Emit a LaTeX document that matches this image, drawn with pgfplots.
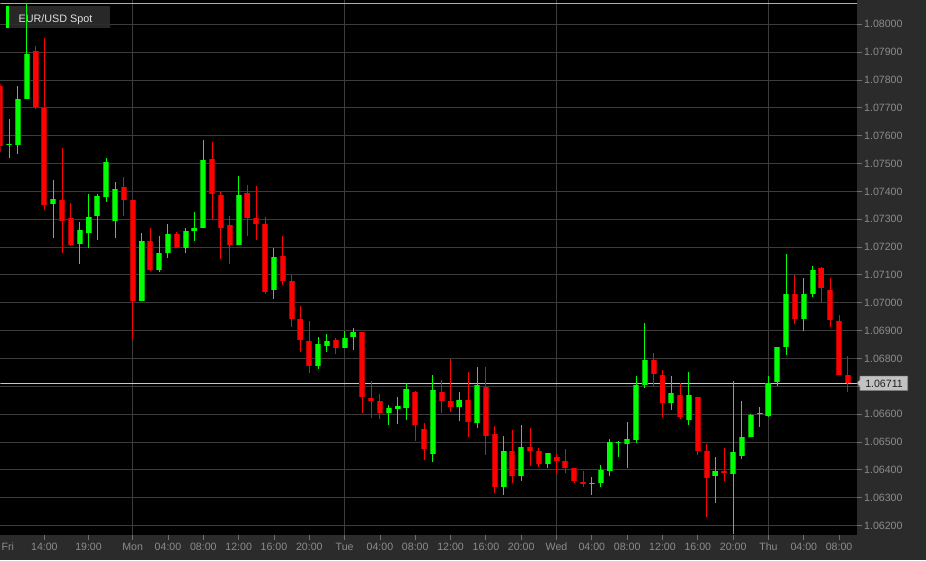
\documentclass[border=0pt]{standalone}
\usepackage{fontspec}
\setmainfont{Liberation Sans}
\usepackage{pgfplots}
\pgfplotsset{compat=1.18}
\usepackage{pgfplotstable}

\definecolor{panel}{HTML}{2B2B2B}
\definecolor{gridc}{HTML}{3C3C3C}
\definecolor{tickc}{HTML}{707070}
\definecolor{ticklbl}{HTML}{8C8C8C}
\definecolor{upc}{HTML}{00FF00}
\definecolor{upedge}{HTML}{00B000}
\definecolor{dnc}{HTML}{FF0000}
\definecolor{dnedge}{HTML}{B40000}

% hourly candles, x = hours from Mon 00:00
\pgfplotstableread{
x o h l c
-14 1.07567 1.07659 1.07520 1.07571
-13 1.07567 1.07777 1.07533 1.07733
-12 1.07733 1.08077 1.07733 1.07895
-9 1.07355 1.07440 1.07233 1.07373
-6 1.07211 1.07289 1.07139 1.07260
-5 1.07252 1.07390 1.07197 1.07307
-4 1.07312 1.07390 1.07225 1.07382
-3 1.07378 1.07519 1.07362 1.07507
-2 1.07294 1.07433 1.07233 1.07410
1 1.07005 1.07249 1.07005 1.07221
3 1.07119 1.07239 1.07111 1.07177
4 1.07179 1.07282 1.07162 1.07248
6 1.07198 1.07267 1.07177 1.07258
7 1.07258 1.07325 1.07222 1.07270
8 1.07269 1.07583 1.07269 1.07511
12 1.07206 1.07454 1.07206 1.07386
16 1.07045 1.07196 1.07013 1.07163
21 1.06772 1.06876 1.06762 1.06851
22 1.06845 1.06887 1.06823 1.06864
24 1.06837 1.06898 1.06837 1.06875
25 1.06876 1.06908 1.06830 1.06895
29 1.06603 1.06632 1.06561 1.06621
30 1.06620 1.06661 1.06565 1.06628
31 1.06621 1.06712 1.06579 1.06689
34 1.06457 1.06740 1.06428 1.06687
37 1.06626 1.06678 1.06574 1.06650
39 1.06567 1.06768 1.06550 1.06706
42 1.06338 1.06521 1.06310 1.06467
44 1.06379 1.06561 1.06360 1.06482
47 1.06419 1.06461 1.06407 1.06461
52 1.06350 1.06374 1.06310 1.06354
53 1.06353 1.06416 1.06337 1.06398
54 1.06395 1.06510 1.06378 1.06498
55 1.06497 1.06503 1.06445 1.06501
56 1.06492 1.06571 1.06406 1.06509
57 1.06507 1.06736 1.06497 1.06705
58 1.06703 1.06926 1.06694 1.06793
61 1.06638 1.06736 1.06616 1.06674
63 1.06578 1.06751 1.06559 1.06669
66 1.06378 1.06445 1.06279 1.06396
68 1.06384 1.06718 1.06169 1.06464
69 1.06449 1.06646 1.06437 1.06518
70 1.06517 1.06602 1.06517 1.06597
71 1.06600 1.06625 1.06554 1.06604
72 1.06593 1.06738 1.06589 1.06711
73 1.06716 1.06841 1.06701 1.06841
74 1.06840 1.07174 1.06811 1.07032
76 1.06942 1.07090 1.06899 1.07030
77 1.07032 1.07132 1.07021 1.07119
}\upbars

\pgfplotstableread{
x o h l c
-15 1.07777 1.07787 1.07541 1.07563
-11 1.07903 1.07921 1.07696 1.07702
-10 1.07701 1.07950 1.07332 1.07351
-8 1.07369 1.07555 1.07179 1.07292
-7 1.07304 1.07357 1.07203 1.07206
-1 1.07417 1.07451 1.07312 1.07369
0 1.07368 1.07368 1.06869 1.07005
2 1.07221 1.07267 1.07114 1.07119
5 1.07247 1.07254 1.07195 1.07198
9 1.07518 1.07576 1.07297 1.07390
10 1.07386 1.07398 1.07157 1.07267
11 1.07279 1.07311 1.07139 1.07206
13 1.07393 1.07422 1.07240 1.07306
14 1.07306 1.07418 1.07225 1.07283
15 1.07282 1.07307 1.07033 1.07039
17 1.07169 1.07239 1.07063 1.07077
18 1.07077 1.07099 1.06913 1.06941
19 1.06940 1.06988 1.06823 1.06866
20 1.06864 1.06934 1.06748 1.06773
23 1.06865 1.06875 1.06816 1.06839
26 1.06895 1.06895 1.06603 1.06662
27 1.06658 1.06718 1.06586 1.06647
28 1.06646 1.06671 1.06582 1.06603
32 1.06678 1.06683 1.06503 1.06559
33 1.06547 1.06567 1.06435 1.06473
35 1.06678 1.06722 1.06603 1.06646
36 1.06647 1.06798 1.06608 1.06625
38 1.06651 1.06751 1.06518 1.06571
40 1.06698 1.06768 1.06453 1.06521
41 1.06527 1.06556 1.06317 1.06337
43 1.06467 1.06542 1.06351 1.06379
45 1.06482 1.06549 1.06414 1.06468
46 1.06468 1.06477 1.06410 1.06420
48 1.06445 1.06458 1.06385 1.06432
49 1.06433 1.06474 1.06387 1.06408
50 1.06408 1.06408 1.06353 1.06359
51 1.06356 1.06395 1.06338 1.06349
59 1.06796 1.06819 1.06698 1.06744
60 1.06742 1.06758 1.06590 1.06638
62 1.06670 1.06711 1.06583 1.06590
64 1.06661 1.06661 1.06453 1.06469
65 1.06469 1.06492 1.06231 1.06372
67 1.06397 1.06478 1.06359 1.06387
75 1.07033 1.07099 1.06925 1.06942
78 1.07124 1.07127 1.06999 1.07054
79 1.07047 1.07088 1.06913 1.06937
80 1.06936 1.06955 1.06740 1.06740
81 1.06740 1.06808 1.06680 1.06711
}\downbars

\begin{document}
\begin{tikzpicture}
\fill[panel] (0,-25pt) rectangle (926pt,535pt);
\begin{axis}[
  width=857pt, height=535pt, scale only axis,
  xmin=-14.98, xmax=82.03,
  ymin=1.06165, ymax=1.08086,
  axis background/.style={fill=black},
  axis line style={draw=none},
  tick align=outside, major tick length=5pt,
  xtick pos=bottom, ytick pos=right, yticklabel pos=right,
  xtick={-10,-5,4,8,12,16,20,28,32,36,40,44,52,56,60,64,68,76,80},
  xticklabels={14:00,19:00,04:00,08:00,12:00,16:00,20:00,04:00,08:00,12:00,16:00,20:00,04:00,08:00,12:00,16:00,20:00,04:00,08:00},
  extra x ticks={0,24,48,72},
  extra x tick labels={Mon,Tue,Wed,Thu},
  extra x tick style={grid=major},
  ytick={1.062,1.063,1.064,1.065,1.066,1.067,1.068,1.069,1.070,1.071,1.072,1.073,1.074,1.075,1.076,1.077,1.078,1.079,1.080},
  % the 1.06700 label sits under the last-price box
  yticklabels={1.06200,1.06300,1.06400,1.06500,1.06600,,1.06800,1.06900,1.07000,1.07100,1.07200,1.07300,1.07400,1.07500,1.07600,1.07700,1.07800,1.07900,1.08000},
  ymajorgrids=true,
  grid style={draw=gridc, line width=0.8pt},
  tick style={draw=tickc, line width=0.8pt},
  tick label style={font=\fontsize{10.6}{12}\selectfont, text=ticklbl},
  xticklabel style={anchor=base, yshift=-10.7pt},
  yticklabel style={anchor=west, inner sep=0pt, xshift=2pt},
  /pgf/number format/assume math mode=true,
]
% legend box
\fill[fill=gray!35!black, fill opacity=0.9] ([xshift=6pt,yshift=-6pt]rel axis cs:0,1) rectangle ([xshift=110pt,yshift=-28pt]rel axis cs:0,1);
\fill[upc] ([xshift=6pt,yshift=-6pt]rel axis cs:0,1) rectangle ([xshift=9pt,yshift=-28pt]rel axis cs:0,1);
\node[anchor=base west, inner sep=0pt, text=white!88!black, font=\fontsize{10.8}{12}\selectfont] at ([xshift=18pt,yshift=-22pt]rel axis cs:0,1) {EUR/USD Spot};

% period high line and last price line
\draw[white!68!black, line width=0.9pt] (axis cs:-16,1.08074) -- (axis cs:83,1.08074);
\draw[white!78!black, line width=0.9pt] (axis cs:-16,1.06711) -- (axis cs:83,1.06711);

% wicks
\addplot[draw=upc, line width=1pt, quiver={u=0, v=\thisrow{h}-\thisrow{l}}] table[x=x, y=l] {\upbars};
\addplot[draw=dnc, line width=1pt, quiver={u=0, v=\thisrow{h}-\thisrow{l}}] table[x=x, y=l] {\downbars};
% bodies
\addplot[draw=upedge, line width=6pt, quiver={u=0, v=\thisrow{c}-\thisrow{o}}] table[x=x, y=o] {\upbars};
\addplot[draw=upc, line width=4.2pt, quiver={u=0, v=\thisrow{c}-\thisrow{o}}] table[x=x, y=o] {\upbars};
\addplot[draw=dnedge, line width=6pt, quiver={u=0, v=\thisrow{c}-\thisrow{o}}] table[x=x, y=o] {\downbars};
\addplot[draw=dnc, line width=4.2pt, quiver={u=0, v=\thisrow{c}-\thisrow{o}}] table[x=x, y=o] {\downbars};

\coordinate (cp) at (axis cs:82.03,1.06711);
\coordinate (fri) at (rel axis cs:0,0);
\end{axis}
\node[anchor=base west, inner sep=0pt, text=ticklbl, font=\fontsize{10.6}{12}\selectfont] at ([xshift=1pt,yshift=-15.7pt]fri) {Fri};
\filldraw[fill=white!76!black, draw=white!55!black, line width=0.6pt]
  (cp) -- ++(3pt,3.5pt) -- ++(0,3.6pt) -- ++(47.7pt,0) -- ++(0,-14.3pt) -- ++(-47.7pt,0) -- ++(0,3.6pt) -- cycle;
\node[inner sep=0pt, text=black!88!white, font=\fontsize{10.6}{12}\selectfont] at ([xshift=27pt,yshift=-0.3pt]cp) {1.06711};
\end{tikzpicture}
\end{document}
